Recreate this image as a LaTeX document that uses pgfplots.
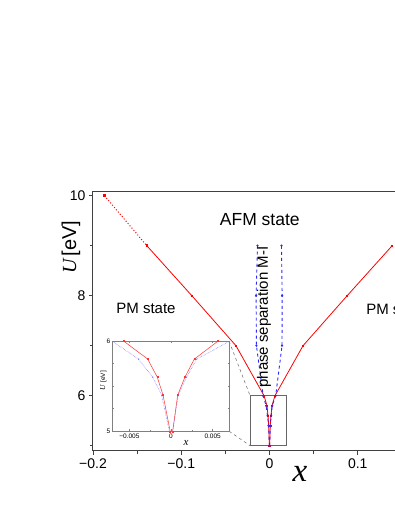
\documentclass[border=0pt]{standalone}
\usepackage{pgfplots}
\pgfplotsset{compat=1.18}
\usepackage{fontspec}
\setmainfont{Liberation Sans}
\newfontfamily\serif{Liberation Serif}
\pgfplotsset{/pgf/number format/assume math mode=true}
\definecolor{pblue}{RGB}{40,40,255}
\begin{document}
\begin{tikzpicture}
\path[use as bounding box] (-93pt,-60.3pt) rectangle (302pt,450.7pt);
\clip (-93pt,-60.3pt) rectangle (302pt,450.7pt);
\begin{axis}[
  scale only axis, width=353pt, height=259pt,
  xmin=-0.2, xmax=0.2, ymin=4.9, ymax=10.08,
  axis line style={draw=black!75, line width=1pt},
  tick align=outside, xtick pos=bottom, ytick pos=left,
  xtick={-0.2,-0.1,0,0.1,0.2}, xticklabels={−0.2,−0.1,0,0.1,0.2},
  ytick={6,8,10},
  minor xtick={-0.15,-0.05,0.05,0.15}, minor ytick={5,7,9},
  major tick length=4pt, minor tick length=3pt,
  tick style={black!75, line width=0.8pt},
  ticklabel style={font=\fontsize{14}{16}\selectfont},
  scaled x ticks=false,
  xlabel={\serif\itshape\fontsize{33}{36}\selectfont x},
  x label style={at={(axis description cs:0.586,0)}, anchor=north, yshift=-12pt},
  ylabel={{\serif\itshape\fontsize{20}{22}\selectfont U} {\fontsize{20}{22}\selectfont [eV]}},
  y label style={at={(axis description cs:-0.0623,0.7865)}, anchor=center},
]
\addplot[red, dotted, line width=1pt, mark=square*, mark size=0.8pt, mark options={solid}]
  coordinates {(-0.187,10) (-0.139,9)};
\addplot[red, line width=0.8pt, mark=square*, mark size=0.7pt]
  coordinates {(-0.139,9) (-0.088,8) (-0.038,7) (-0.0062,6) (-0.0028,5.8) (-0.0017,5.6) (-0.0009,5.4) (-0.0002,5.0)};
\addplot[red, line width=0.8pt, mark=square*, mark size=0.7pt]
  coordinates {(0.0002,5.0) (0.0008,5.4) (0.0017,5.6) (0.0028,5.8) (0.0062,6) (0.038,7) (0.088,8) (0.139,9)};
\addplot[pblue, dashed, line width=0.9pt, mark=*, mark size=0.6pt, mark options={solid}]
  coordinates {(-0.0136,9) (-0.0152,8) (-0.0148,7) (-0.0072,6) (-0.0039,5.8) (-0.0022,5.6) (-0.0011,5.4) (-0.0002,5.0)};
\addplot[pblue, dashed, line width=0.9pt, mark=*, mark size=0.6pt, mark options={solid}]
  coordinates {(0.0002,5.0) (0.0009,5.4) (0.0019,5.6) (0.0031,5.8) (0.0070,6) (0.0142,7) (0.0143,8) (0.0136,9)};
\draw[black!60, line width=0.7pt] (axis cs:-0.022,5.0) rectangle (axis cs:0.019,6.0);
\draw[black!60, dashed, line width=0.5pt] (axis cs:-0.0458,7.09) -- (axis cs:-0.022,6.0);
\draw[black!60, dashed, line width=0.5pt] (axis cs:-0.0458,5.29) -- (axis cs:-0.022,5.0);
\node[font=\fontsize{17.5}{20}\selectfont] at (axis cs:-0.011,9.53) {AFM state};
\node[font=\fontsize{15}{18}\selectfont] at (axis cs:-0.14,7.75) {PM state};
\node[font=\fontsize{15}{18}\selectfont, anchor=west, inner sep=0pt] at (axis cs:0.1095,7.73) {PM state};
\node[font=\fontsize{15}{18}\selectfont, rotate=90] at (axis cs:-0.0061,7.57) {phase separation M-I};
\end{axis}
\begin{axis}[
  at={(19.7pt,19.4pt)}, anchor=south west,
  scale only axis, width=116.6pt, height=90.3pt,
  xmin=-0.007, xmax=0.007, ymin=5, ymax=6,
  axis background/.style={fill=white},
  axis line style={draw=black!50, line width=0.6pt},
  tick align=inside,
  xtick={-0.005,0,0.005}, xticklabels={−0.005,0,0.005},
  ytick={5,6}, minor y tick num=3, minor x tick num=1,
  major tick length=2.5pt, minor tick length=1.5pt,
  tick style={black!50, line width=0.5pt},
  ticklabel style={font=\fontsize{6.5}{7}\selectfont},
  xticklabel style={yshift=1pt}, yticklabel style={xshift=1pt},
  scaled x ticks=false,
  xlabel={\serif\itshape\fontsize{11}{12}\selectfont x},
  x label style={at={(axis description cs:0.629,0)}, anchor=north, yshift=-6pt},
  ylabel={{\serif\itshape\fontsize{7.5}{8}\selectfont U} {\fontsize{6.5}{8}\selectfont [eV]}},
  y label style={at={(axis description cs:-0.08,0.557)}, anchor=center},
]
\addplot[red!80, line width=0.5pt, mark=square*, mark size=0.5pt]
  coordinates {(-0.0057,6) (-0.0028,5.8) (-0.00165,5.6) (-0.00095,5.4) (-0.0001,5.0)};
\addplot[red!80, line width=0.5pt, mark=square*, mark size=0.5pt]
  coordinates {(0.0002,5.0) (0.0008,5.4) (0.00167,5.6) (0.0028,5.8) (0.00566,6)};
\addplot[pblue!70, densely dotted, line width=0.5pt, mark=*, mark size=0.4pt]
  coordinates {(-0.0071,6) (-0.0039,5.8) (-0.0022,5.6) (-0.00112,5.4) (-0.0002,5.0)};
\addplot[pblue!70, densely dotted, line width=0.5pt, mark=*, mark size=0.4pt]
  coordinates {(0.0002,5.0) (0.00087,5.4) (0.00187,5.6) (0.0031,5.8) (0.0071,6)};
\end{axis}
\end{tikzpicture}
\end{document}
